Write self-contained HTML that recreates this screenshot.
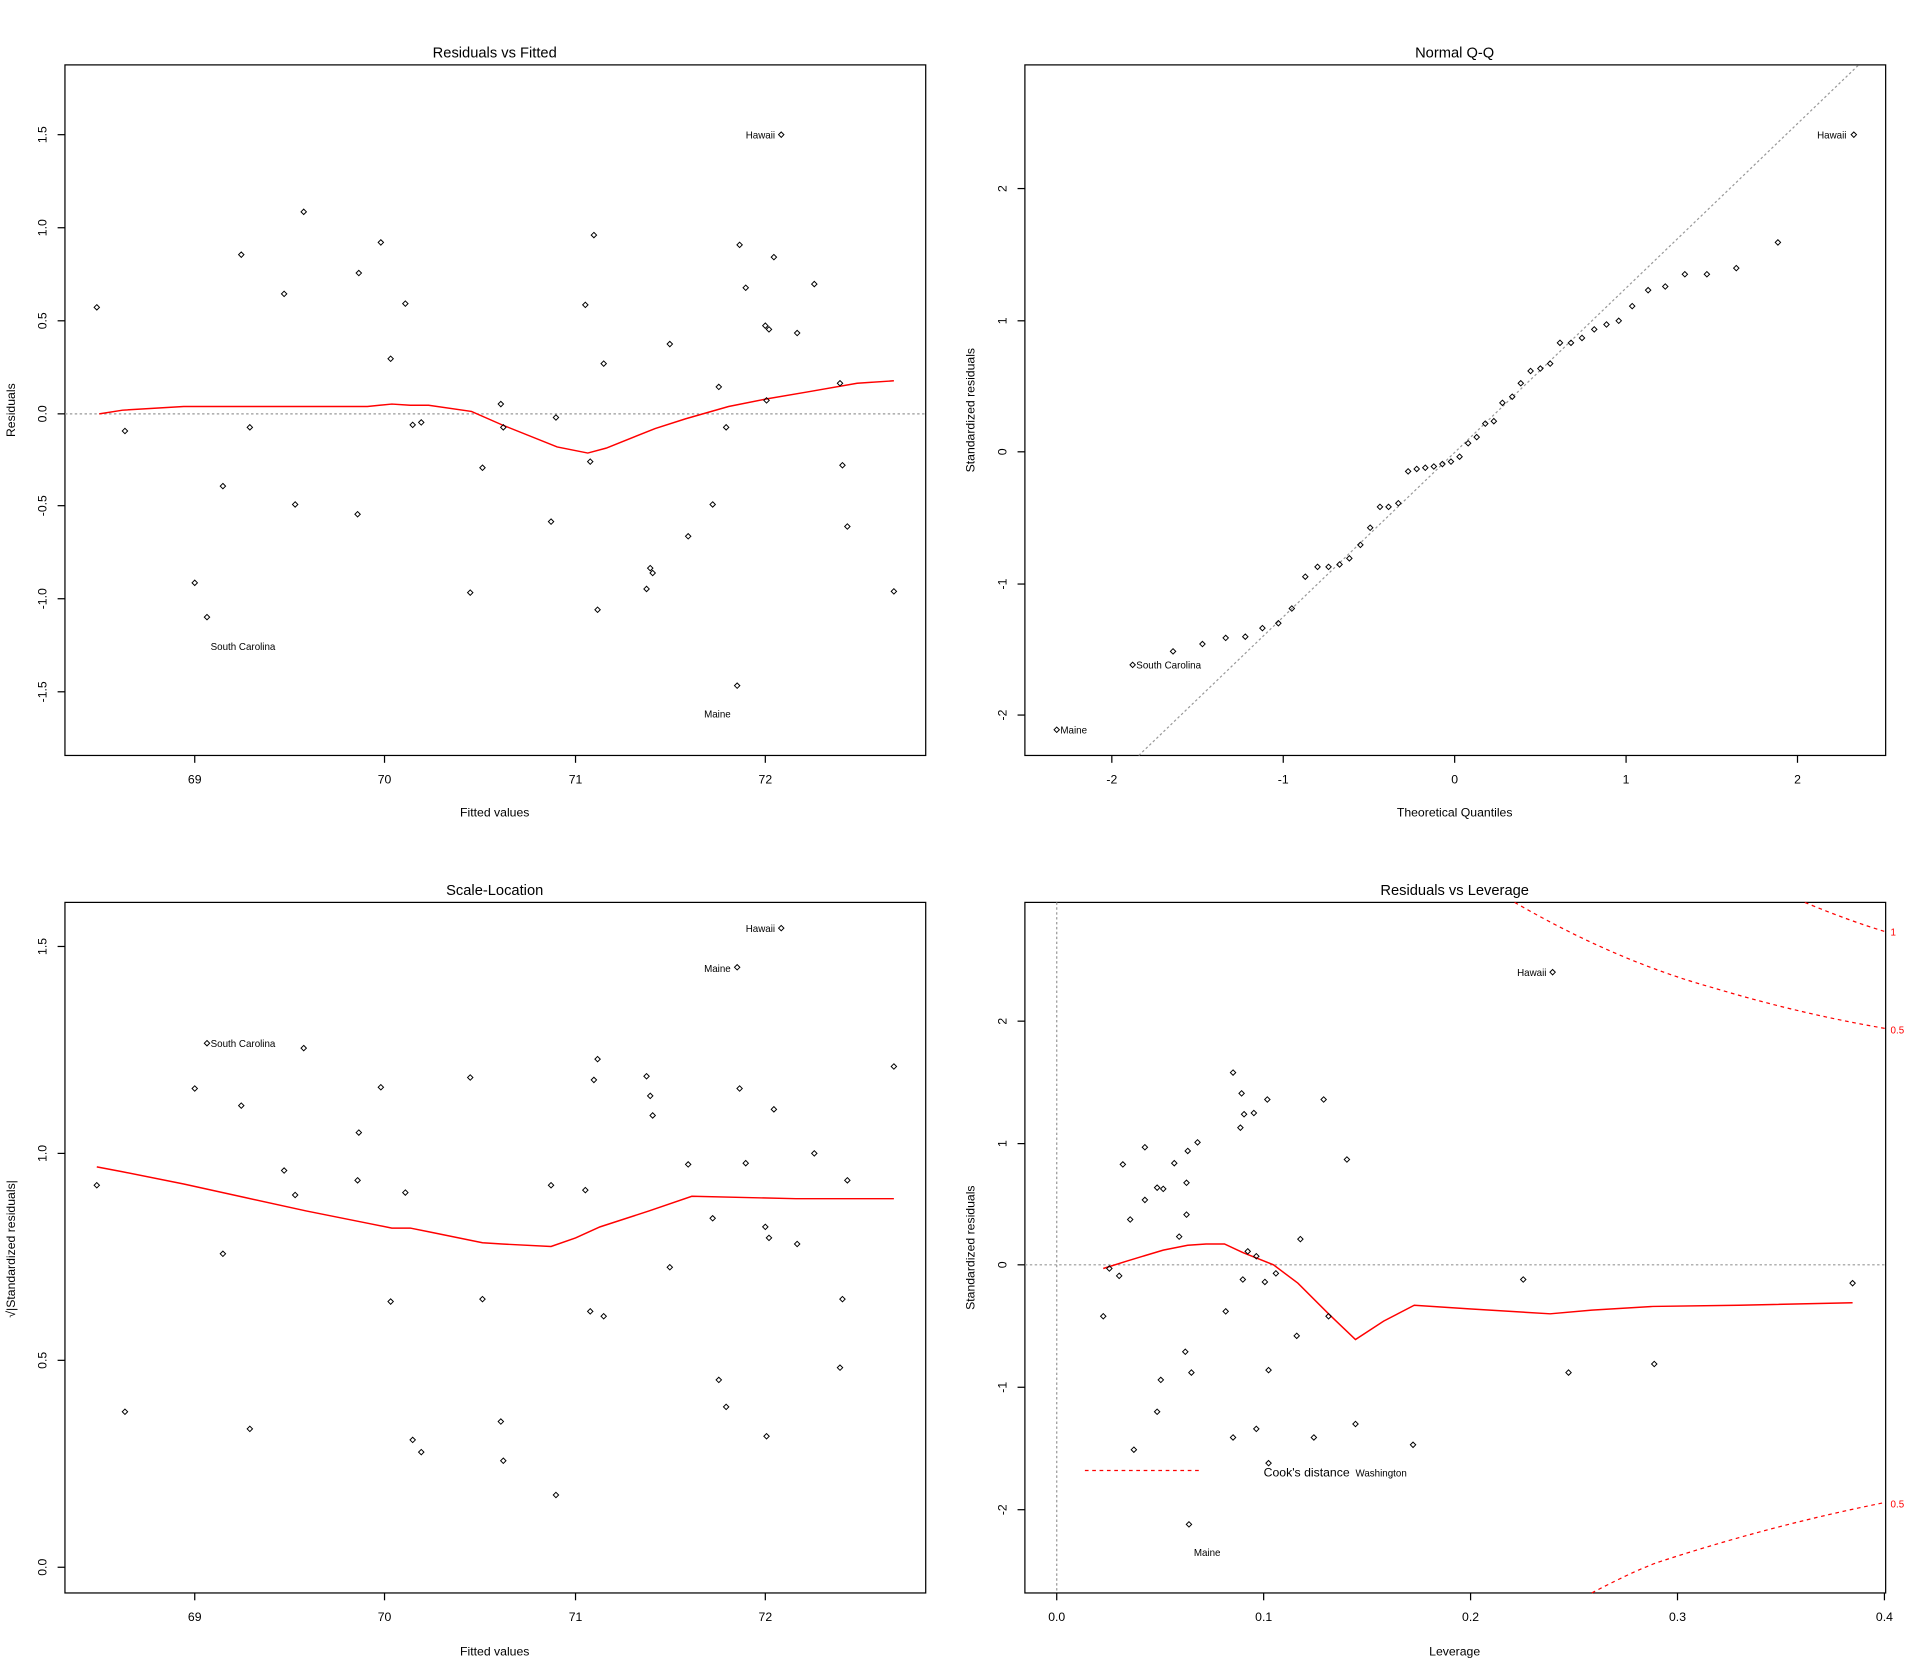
<!DOCTYPE html>
<html><head><meta charset="utf-8"><style>
html,body{margin:0;padding:0;background:#fff;}
svg{display:block;}
text{font-family:"Liberation Sans",Arial,sans-serif;fill:#000;}
.t{font-size:12px;}
.a{font-size:10px;}
.k{font-size:10px;}
.s{font-size:8px;}
.r{font-size:8px;fill:#f00;}
</style></head><body>
<svg id="g" width="1920" height="1675" viewBox="0 0 1568 1368" xmlns="http://www.w3.org/2000/svg">
<rect width="1568" height="1368" fill="#fff"/>
<g fill="none" stroke="#000" stroke-width="1">
<rect x="53" y="53" width="703" height="564"/>
<rect x="837" y="53" width="703" height="564"/>
<rect x="53" y="737" width="703" height="564"/>
<rect x="837" y="737" width="703" height="564"/>
</g>
<!-- titles -->
<text class="t" x="404" y="47" text-anchor="middle">Residuals vs Fitted</text>
<text class="t" x="1188" y="47" text-anchor="middle">Normal Q-Q</text>
<text class="t" x="404" y="731" text-anchor="middle">Scale-Location</text>
<text class="t" x="1188" y="731" text-anchor="middle">Residuals vs Leverage</text>
<!-- axis labels -->
<text class="a" x="404" y="667" text-anchor="middle">Fitted values</text>
<text class="a" x="1188" y="667" text-anchor="middle">Theoretical Quantiles</text>
<text class="a" x="404" y="1352" text-anchor="middle">Fitted values</text>
<text class="a" x="1188" y="1352" text-anchor="middle">Leverage</text>
<text class="a" transform="translate(12,335) rotate(-90)" text-anchor="middle">Residuals</text>
<text class="a" transform="translate(796,335) rotate(-90)" text-anchor="middle">Standardized residuals</text>
<text class="a" transform="translate(12,1020) rotate(-90)" text-anchor="middle">√|Standardized residuals|</text>
<text class="a" transform="translate(796,1019) rotate(-90)" text-anchor="middle">Standardized residuals</text>
<g id="ticks" stroke="#000" stroke-width="1"></g>
<g id="tl"></g>
<!-- reference lines -->
<g stroke="#999" stroke-width="1" stroke-dasharray="2,2" fill="none">
<line x1="53" y1="338" x2="756" y2="338"/>
<line x1="930" y1="617" x2="1518" y2="53"/>
<line x1="837" y1="1033" x2="1540" y2="1033"/>
<line x1="863" y1="737" x2="863" y2="1301"/>
</g>
<!-- red smooths -->
<g stroke="#f00" stroke-width="1.2" fill="none">
<polyline points="81,338 100,335 150,332 300,332 320,330 335,331 350,331 385,336 410,347 455,365 480,370 495,366 535,350 560,342 595,332 625,326 660,320 700,313 730,311"/>
<polyline points="79,953 100,957 150,967 200,978 250,989 300,999 320,1003 335,1003 350,1006 394,1015 410,1016 450,1018 470,1011 490,1002 530,989 565,977 650,979 730,979"/>
<polyline points="901,1036 920,1030 950,1021 970,1017 985,1016 1000,1016 1015,1023 1040,1033 1060,1048 1085,1073 1107,1094 1130,1079 1155,1066 1200,1069 1266,1073 1300,1070 1350,1067 1420,1066 1513,1064"/>
</g>
<g stroke="#f00" stroke-width="1" stroke-dasharray="3,3" fill="none">
<path d="M1237,737 Q1320,785 1400,807 Q1470,828 1540,840"/>
<path d="M1474,737 Q1510,752 1540,761"/>
<path d="M1300,1301 Q1340,1280 1360,1274 Q1450,1245 1540,1227"/>
<line x1="886" y1="1201" x2="982" y2="1201"/>
</g>
<text class="r" x="1544" y="764">1</text>
<text class="r" x="1544" y="844">0.5</text>
<text class="r" x="1544" y="1231">0.5</text>
<text class="a" x="1032" y="1206">Cook's distance</text>
<text class="s" x="1107" y="1206">Washington</text>
<!-- point labels -->
<text class="s" x="609" y="113">Hawaii</text>
<text class="s" x="172" y="531">South Carolina</text>
<text class="s" x="575" y="586">Maine</text>
<text class="s" x="866" y="599">Maine</text>
<text class="s" x="928" y="546">South Carolina</text>
<text class="s" x="1484" y="113">Hawaii</text>
<text class="s" x="609" y="761">Hawaii</text>
<text class="s" x="575" y="794">Maine</text>
<text class="s" x="172" y="855">South Carolina</text>
<text class="s" x="1239" y="797">Hawaii</text>
<text class="s" x="975" y="1271">Maine</text>
<g id="pts" fill="none" stroke="#000" stroke-width="0.8"></g>
</svg>
<script>
var NS="http://www.w3.org/2000/svg";
function el(p,n,a,txt){var e=document.createElementNS(NS,n);for(var k in a)e.setAttribute(k,a[k]);if(txt!==undefined)e.textContent=txt;document.getElementById(p).appendChild(e);}
function xt(xs,labs,yb){for(var i=0;i<xs.length;i++){el("ticks","line",{x1:xs[i],y1:yb,x2:xs[i],y2:yb+6});el("tl","text",{x:xs[i],y:yb+23,"text-anchor":"middle","class":"k"},labs[i]);}}
function yt(ys,labs,xl){for(var i=0;i<ys.length;i++){el("ticks","line",{x1:xl,y1:ys[i],x2:xl-6,y2:ys[i]});el("tl","text",{transform:"translate("+(xl-15)+","+ys[i]+") rotate(-90)","text-anchor":"middle","class":"k"},labs[i]);}}
xt([159,314,470,625],["69","70","71","72"],617);
xt([908,1048,1188,1328,1468],["-2","-1","0","1","2"],617);
xt([159,314,470,625],["69","70","71","72"],1301);
xt([863,1032,1201,1370,1539],["0.0","0.1","0.2","0.3","0.4"],1301);
yt([110,186,262,338,413,489,565],["1.5","1.0","0.5","0.0","-0.5","-1.0","-1.5"],53);
yt([154,262,369,477,584],["2","1","0","-1","-2"],837);
yt([773,942,1111,1280],["1.5","1.0","0.5","0.0"],53);
yt([834,934,1033,1133,1233],["2","1","0","-1","-2"],837);
var P=[
[79,251,102,352,159,476,169,504,182,397,197,208,204,349,232,240,241,412,248,173,292,420,293,223,311,198,319,293,331,248,337,347,344,345,384,484,394,382,409,330,411,349,450,426,454,341,478,249,482,377,485,192,488,498,493,297,528,481,531,464,533,468,547,281,562,438,582,412,587,316,593,349,602,560,604,200,609,235,625,266,628,269,626,327,632,210,651,272,665,232,686,313,688,380,692,430,730,483,638,110],
[863,596,925,543,958,532,982,526,1001,521,1017,520,1031,513,1044,509,1055,497,1066,471,1076,463,1085,463,1094,461,1102,456,1111,445,1119,431,1127,414,1134,414,1142,411,1150,385,1157,383,1164,382,1171,381,1178,379,1185,377,1192,373,1199,362,1206,357,1213,346,1220,344,1227,329,1235,324,1242,313,1250,303,1258,301,1266,297,1274,280,1283,280,1292,276,1302,269,1312,265,1322,262,1333,250,1346,237,1360,234,1376,224,1394,224,1418,219,1452,198,1514,110],
[79,968,102,1153,159,889,169,852,182,1024,197,903,204,1167,232,956,241,976,248,856,292,964,293,925,311,888,319,1063,331,974,337,1176,344,1186,384,880,394,1061,409,1161,411,1193,450,968,454,1221,478,972,482,1071,485,882,488,865,493,1075,528,879,531,895,533,911,547,1035,562,951,582,995,587,1127,593,1149,602,790,604,889,609,950,625,1002,628,1011,626,1173,632,906,651,1016,665,942,686,1117,688,1061,692,964,730,871,638,758],
[901,1075,906,1036,914,1042,917,951,923,996,926,1184,935,937,935,980,945,970,948,1127,950,971,945,1153,959,950,963,1010,968,1104,969,966,970,940,969,992,973,1121,978,933,1001,1071,1007,876,1007,1174,1014,893,1016,910,1013,921,1015,1045,1019,1022,1024,909,1026,1026,1026,1167,1033,1047,1035,898,1036,1119,1036,1195,1042,1040,1059,1091,1062,1012,1073,1174,1081,898,1085,1075,1100,947,1107,1163,1154,1180,1244,1045,1268,794,1281,1121,1351,1114,1513,1048,971,1245]];
P.forEach(function(a){for(var i=0;i<a.length;i+=2){var x=a[i],y=a[i+1];el("pts","path",{d:"M"+x+","+(y-2.2)+" L"+(x+2.2)+","+y+" L"+x+","+(y+2.2)+" L"+(x-2.2)+","+y+"Z"});}});
</script>
</body></html>
